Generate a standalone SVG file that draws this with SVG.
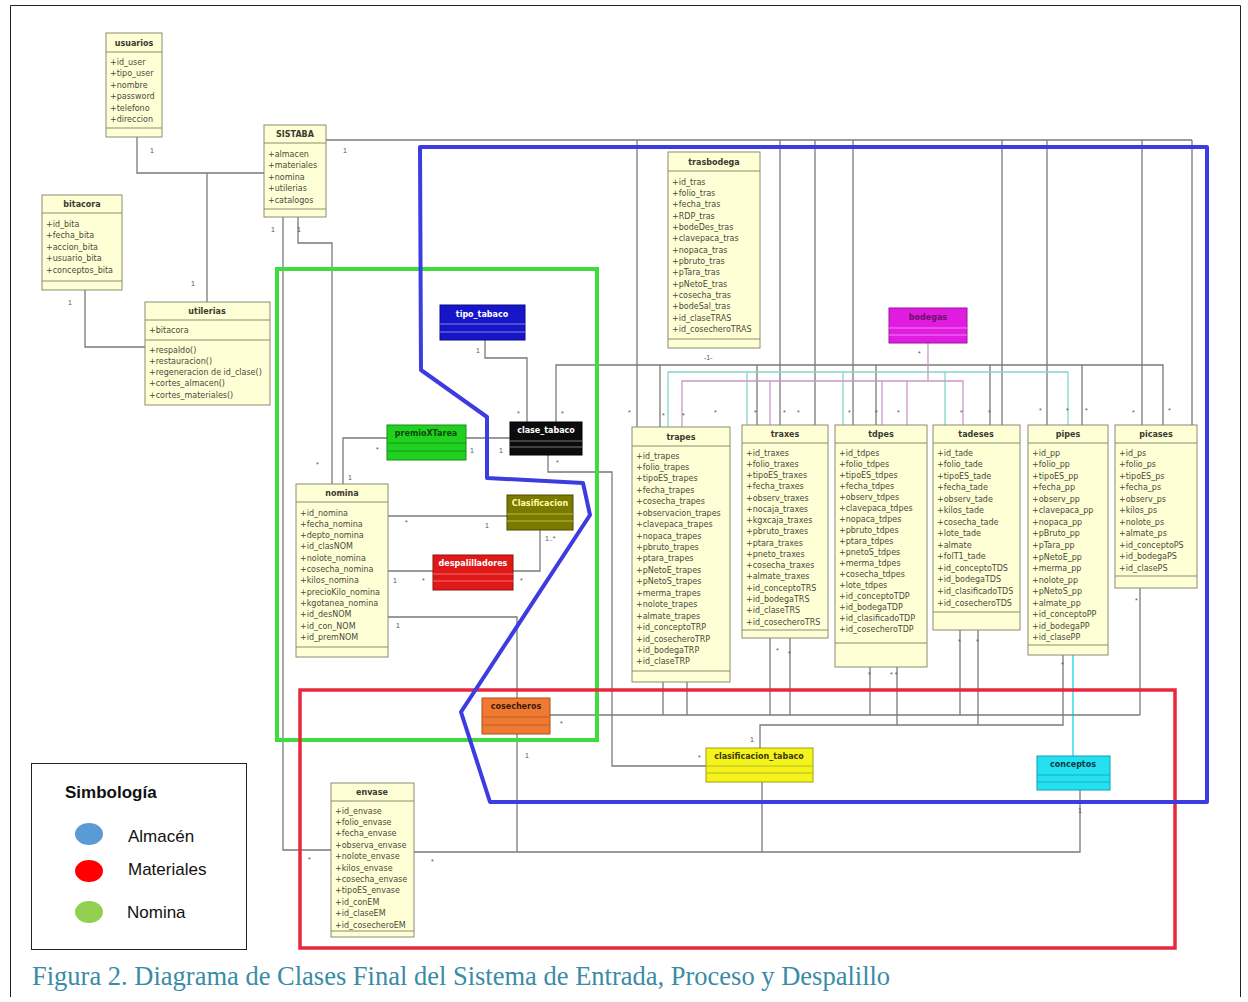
<svg xmlns="http://www.w3.org/2000/svg" width="1248" height="1002" viewBox="0 0 1248 1002">
  <style>
    .box { fill: #FFFFD6; stroke: #8C8C70; stroke-width: 1; }
    .sep { stroke: #8C8C70; stroke-width: 1; }
    .t { font-family: "DejaVu Sans", "Liberation Sans", sans-serif; font-size: 8px; font-weight: bold; text-anchor: middle; fill: #3A3A30; }
    .a { font-family: "DejaVu Sans", "Liberation Sans", sans-serif; font-size: 8px; fill: #4A4A3C; }
    .m { font-family: "Liberation Sans", Arial, sans-serif; font-size: 7px; fill: #555; }
    .ln { fill: none; stroke: #7A7A7A; stroke-width: 1.3; }
    .teal { fill: none; stroke: #88D4CC; stroke-width: 1.3; }
    .mag { fill: none; stroke: #C898C8; stroke-width: 1.3; }
    .cyan { fill: none; stroke: #3FE0E8; stroke-width: 1.6; }
    .lg { font-family: "Liberation Sans", Arial, sans-serif; font-size: 17px; fill: #111; }
  </style>

  <rect x="0" y="0" width="1248" height="1002" fill="#FFFFFF"/>
  <!-- page frame -->
  <path d="M10.5,997 V5.5 H1240.5 V997" fill="none" stroke="#222" stroke-width="1"/>

  <!-- connectors -->
  <g id="connectors">
    <path class="ln" d="M137,137 V173 H264"/>
    <path class="ln" d="M207,173 V302"/>
    <path class="ln" d="M85,290 V347 H145"/>
    <!-- SISTABA top bus -->
    <path class="ln" d="M326,140 H1192"/>
    <path class="ln" d="M637,140 V427 M780,140 V425 M815,140 V425 M853,140 V425 M1002,140 V425 M1047,140 V425 M1142,140 V425 M1192,140 V425"/>
    <!-- clase_tabaco bus -->
    <path class="ln" d="M556,422 V365 H1163 V425"/>
    <path class="ln" d="M660,365 V427 M757,365 V425 M876,365 V425 M990,365 V425 M1082,365 V425"/>
    <!-- conceptos bus -->
    <path class="teal" d="M668,427 V372 H1068 V425 M747,372 V425 M843,372 V425 M945,372 V425"/>
    <path class="cyan" d="M1073,756 V655"/>
    <!-- bodegas bus -->
    <path class="mag" d="M928,343 V381 M682,427 V381 H963 V425 M770,381 V425 M882,381 V425 M907,381 V425"/>
    <!-- tipo / clase / premio / nomina -->
    <path class="ln" d="M485,340 V358 H527 V422"/>
    <path class="ln" d="M343,484 V438 H510"/>
    <path class="ln" d="M548,455 V472 H612 V766 H706"/>
    <path class="ln" d="M388,516 H507"/>
    <path class="ln" d="M540,530 V571 H388"/>
    <path class="ln" d="M388,617 H517 V698"/>
    <path class="ln" d="M283,217 V850 H331"/>
    <path class="ln" d="M298,217 V243 H332 V484"/>
    <!-- lower area -->
    <path class="ln" d="M517,734 V852"/>
    <path class="ln" d="M414,852 H1080 V790"/>
    <path class="ln" d="M762,782 V852"/>
    <path class="ln" d="M550,715 H1140" stroke="#9A9080"/>
    <path class="ln" d="M663,682 V715 M687,682 V715 M770,637 V715 M790,637 V715 M870,667 V715 M897,667 V725 M960,630 V715 M978,630 V725 M1140,588 V715"/>
    <path class="ln" d="M760,748 V725 H1063 V655"/>
    <!-- multiplicities -->
    <g class="m">
      <text x="150" y="153">1</text>
      <text x="343" y="153">1</text>
      <text x="191" y="286">1</text>
      <text x="68" y="305">1</text>
      <text x="271" y="232">1</text>
      <text x="297" y="232">1</text>
      <text x="476" y="353">1</text>
      <text x="517" y="416">*</text>
      <text x="561" y="416">*</text>
      <text x="376" y="452">*</text>
      <text x="470" y="453">1</text>
      <text x="499" y="453">1</text>
      <text x="316" y="467">*</text>
      <text x="348" y="480">1</text>
      <text x="556" y="465">*</text>
      <text x="405" y="525">*</text>
      <text x="485" y="528">1</text>
      <text x="545" y="541">1..*</text>
      <text x="393" y="583">1</text>
      <text x="422" y="583">*</text>
      <text x="520" y="583">*</text>
      <text x="396" y="628">1</text>
      <text x="704" y="360">-1-</text>
      <text x="628" y="415">*</text>
      <text x="662" y="418">*</text>
      <text x="682" y="418">*</text>
      <text x="714" y="415">*</text>
      <text x="754" y="415">*</text>
      <text x="783" y="415">*</text>
      <text x="797" y="415">*</text>
      <text x="848" y="415">*</text>
      <text x="875" y="415">*</text>
      <text x="897" y="415">*</text>
      <text x="918" y="356">*</text>
      <text x="960" y="415">*</text>
      <text x="988" y="415">*</text>
      <text x="1039" y="413">*</text>
      <text x="1066" y="413">*</text>
      <text x="1085" y="413">*</text>
      <text x="1132" y="415">*</text>
      <text x="1168" y="413">*</text>
      <text x="776" y="653">*</text>
      <text x="788" y="656">*</text>
      <text x="868" y="677">*</text>
      <text x="890" y="677">* *</text>
      <text x="958" y="644">*</text>
      <text x="976" y="644">*</text>
      <text x="1061" y="667">*</text>
      <text x="1135" y="603">*</text>
      <text x="560" y="726">*</text>
      <text x="698" y="760">*</text>
      <text x="750" y="742">1</text>
      <text x="525" y="758">1</text>
      <text x="308" y="862">*</text>
      <text x="431" y="864">*</text>
      <text x="1078" y="813">1</text>
    </g>
  </g>

  <!-- subsystem outlines -->
  <rect x="277" y="269" width="320" height="471" fill="none" stroke="#3EDC3E" stroke-width="4"/>
  <rect x="300" y="690" width="875" height="258" fill="none" stroke="#E8283C" stroke-width="3.5"/>
  <polygon points="420,147 1207,147 1207,802 490,802 461,712 590,515 583,483 487,478 487,417 421,370" fill="none" stroke="#3C3CE0" stroke-width="4" stroke-linejoin="round"/>

  <!-- classes -->
  <g id="usuarios">
    <rect class="box" x="106" y="33" width="56" height="104"/>
    <text class="t" x="134" y="46">usuarios</text>
    <path class="sep" d="M106,52 H162 M106,128 H162"/>
    <text class="a" x="110" y="64.5"><tspan x="110">+id_user</tspan><tspan x="110" dy="11.5">+tipo_user</tspan><tspan x="110" dy="11.5">+nombre</tspan><tspan x="110" dy="11.5">+password</tspan><tspan x="110" dy="11.5">+telefono</tspan><tspan x="110" dy="11.5">+direccion</tspan></text>
  </g>

  <g id="SISTABA">
    <rect class="box" x="264" y="125" width="62" height="92"/>
    <text class="t" x="295" y="137">SISTABA</text>
    <path class="sep" d="M264,143 H326 M264,209 H326"/>
    <text class="a" x="268" y="156.5"><tspan x="268">+almacen</tspan><tspan x="268" dy="11.5">+materiales</tspan><tspan x="268" dy="11.5">+nomina</tspan><tspan x="268" dy="11.5">+utilerias</tspan><tspan x="268" dy="11.5">+catalogos</tspan></text>
  </g>

  <g id="bitacora">
    <rect class="box" x="42" y="195" width="80" height="95"/>
    <text class="t" x="82" y="207">bitacora</text>
    <path class="sep" d="M42,213 H122 M42,281 H122"/>
    <text class="a" x="46" y="226.5"><tspan x="46">+id_bita</tspan><tspan x="46" dy="11.5">+fecha_bita</tspan><tspan x="46" dy="11.5">+accion_bita</tspan><tspan x="46" dy="11.5">+usuario_bita</tspan><tspan x="46" dy="11.5">+conceptos_bita</tspan></text>
  </g>

  <g id="utilerias">
    <rect class="box" x="145" y="302" width="125" height="103"/>
    <text class="t" x="207" y="314">utilerias</text>
    <path class="sep" d="M145,320 H270 M145,340 H270"/>
    <text class="a" x="149" y="332.5">+bitacora</text>
    <text class="a" x="149" y="352.5"><tspan x="149">+respaldo()</tspan><tspan x="149" dy="11.25">+restauracion()</tspan><tspan x="149" dy="11.25">+regeneracion de id_clase()</tspan><tspan x="149" dy="11.25">+cortes_almacen()</tspan><tspan x="149" dy="11.25">+cortes_materiales()</tspan></text>
  </g>

  <g id="trasbodega">
    <rect class="box" x="668" y="152" width="92" height="196"/>
    <text class="t" x="714" y="165">trasbodega</text>
    <path class="sep" d="M668,171 H760 M668,339 H760"/>
    <text class="a" x="672" y="184.5"><tspan x="672">+id_tras</tspan><tspan x="672" dy="11.35">+folio_tras</tspan><tspan x="672" dy="11.35">+fecha_tras</tspan><tspan x="672" dy="11.35">+RDP_tras</tspan><tspan x="672" dy="11.35">+bodeDes_tras</tspan><tspan x="672" dy="11.35">+clavepaca_tras</tspan><tspan x="672" dy="11.35">+nopaca_tras</tspan><tspan x="672" dy="11.35">+pbruto_tras</tspan><tspan x="672" dy="11.35">+pTara_tras</tspan><tspan x="672" dy="11.35">+pNetoE_tras</tspan><tspan x="672" dy="11.35">+cosecha_tras</tspan><tspan x="672" dy="11.35">+bodeSal_tras</tspan><tspan x="672" dy="11.35">+id_claseTRAS</tspan><tspan x="672" dy="11.35">+id_cosecheroTRAS</tspan></text>
  </g>

  <g id="tipo_tabaco">
    <rect x="440" y="305" width="85" height="35" fill="#1616C8" stroke="#0A0A80"/>
    <text class="t" x="482" y="317" style="fill:#FFFFFF">tipo_tabaco</text>
    <path d="M440,324 H525 M440,332 H525" stroke="#8080E0" stroke-width="1"/>
  </g>

  <g id="bodegas">
    <rect x="889" y="308" width="78" height="35" fill="#E01CE0" stroke="#A010A0"/>
    <text class="t" x="928" y="320" style="fill:#6A106A">bodegas</text>
    <path d="M889,328 H967 M889,335 H967" stroke="#F080F0" stroke-width="1"/>
  </g>

  <g id="clase_tabaco">
    <rect x="510" y="422" width="72" height="33" fill="#0C0C0C" stroke="#000"/>
    <text class="t" x="546" y="433" style="fill:#FFFFFF">clase_tabaco</text>
    <path d="M510,441 H582 M510,447 H582" stroke="#777" stroke-width="1"/>
  </g>

  <g id="premioXTarea">
    <rect x="387" y="425" width="79" height="35" fill="#22D022" stroke="#119011"/>
    <text class="t" x="426" y="436" style="fill:#0A4A0A">premioXTarea</text>
    <path d="M387,443 H466 M387,451 H466" stroke="#0E9A0E" stroke-width="1"/>
  </g>

  <g id="Clasificacion">
    <rect x="507" y="495" width="66" height="35" fill="#7A7A00" stroke="#4A4A00"/>
    <text class="t" x="540" y="506" style="fill:#FFFFA8">Clasificacion</text>
    <path d="M507,514 H573 M507,521 H573" stroke="#B8B840" stroke-width="1"/>
  </g>

  <g id="despalilladores">
    <rect x="433" y="555" width="80" height="35" fill="#E01818" stroke="#901010"/>
    <text class="t" x="473" y="566" style="fill:#FFFFFF">despalilladores</text>
    <path d="M433,574 H513 M433,581 H513" stroke="#F07070" stroke-width="1"/>
  </g>

  <g id="nomina">
    <rect class="box" x="296" y="484" width="92" height="173"/>
    <text class="t" x="342" y="496">nomina</text>
    <path class="sep" d="M296,502 H388 M296,647 H388"/>
    <text class="a" x="300" y="515.5"><tspan x="300">+id_nomina</tspan><tspan x="300" dy="11.3">+fecha_nomina</tspan><tspan x="300" dy="11.3">+depto_nomina</tspan><tspan x="300" dy="11.3">+id_clasNOM</tspan><tspan x="300" dy="11.3">+nolote_nomina</tspan><tspan x="300" dy="11.3">+cosecha_nomina</tspan><tspan x="300" dy="11.3">+kilos_nomina</tspan><tspan x="300" dy="11.3">+precioKilo_nomina</tspan><tspan x="300" dy="11.3">+kgotanea_nomina</tspan><tspan x="300" dy="11.3">+id_desNOM</tspan><tspan x="300" dy="11.3">+id_con_NOM</tspan><tspan x="300" dy="11.3">+id_premNOM</tspan></text>
  </g>

  <g id="trapes">
    <rect class="box" x="632" y="427" width="98" height="255"/>
    <text class="t" x="681" y="440">trapes</text>
    <path class="sep" d="M632,446 H730 M632,671 H730"/>
    <text class="a" x="636" y="458.5"><tspan x="636">+id_trapes</tspan><tspan x="636" dy="11.44">+folio_trapes</tspan><tspan x="636" dy="11.44">+tipoES_trapes</tspan><tspan x="636" dy="11.44">+fecha_trapes</tspan><tspan x="636" dy="11.44">+cosecha_trapes</tspan><tspan x="636" dy="11.44">+observacion_trapes</tspan><tspan x="636" dy="11.44">+clavepaca_trapes</tspan><tspan x="636" dy="11.44">+nopaca_trapes</tspan><tspan x="636" dy="11.44">+pbruto_trapes</tspan><tspan x="636" dy="11.44">+ptara_trapes</tspan><tspan x="636" dy="11.44">+pNetoE_trapes</tspan><tspan x="636" dy="11.44">+pNetoS_trapes</tspan><tspan x="636" dy="11.44">+merma_trapes</tspan><tspan x="636" dy="11.44">+nolote_trapes</tspan><tspan x="636" dy="11.44">+almate_trapes</tspan><tspan x="636" dy="11.44">+id_conceptoTRP</tspan><tspan x="636" dy="11.44">+id_cosecheroTRP</tspan><tspan x="636" dy="11.44">+id_bodegaTRP</tspan><tspan x="636" dy="11.44">+id_claseTRP</tspan></text>
  </g>

  <g id="traxes">
    <rect class="box" x="742" y="425" width="86" height="213"/>
    <text class="t" x="785" y="437">traxes</text>
    <path class="sep" d="M742,443 H828 M742,630 H828"/>
    <text class="a" x="746" y="455.5"><tspan x="746">+id_traxes</tspan><tspan x="746" dy="11.27">+folio_traxes</tspan><tspan x="746" dy="11.27">+tipoES_traxes</tspan><tspan x="746" dy="11.27">+fecha_traxes</tspan><tspan x="746" dy="11.27">+observ_traxes</tspan><tspan x="746" dy="11.27">+nocaja_traxes</tspan><tspan x="746" dy="11.27">+kgxcaja_traxes</tspan><tspan x="746" dy="11.27">+pbruto_traxes</tspan><tspan x="746" dy="11.27">+ptara_traxes</tspan><tspan x="746" dy="11.27">+pneto_traxes</tspan><tspan x="746" dy="11.27">+cosecha_traxes</tspan><tspan x="746" dy="11.27">+almate_traxes</tspan><tspan x="746" dy="11.27">+id_conceptoTRS</tspan><tspan x="746" dy="11.27">+id_bodegaTRS</tspan><tspan x="746" dy="11.27">+id_claseTRS</tspan><tspan x="746" dy="11.27">+id_cosecheroTRS</tspan></text>
  </g>

  <g id="tdpes">
    <rect class="box" x="835" y="425" width="92" height="242"/>
    <text class="t" x="881" y="437">tdpes</text>
    <path class="sep" d="M835,443 H927 M835,643 H927"/>
    <text class="a" x="839" y="455.5"><tspan x="839">+id_tdpes</tspan><tspan x="839" dy="11.06">+folio_tdpes</tspan><tspan x="839" dy="11.06">+tipoES_tdpes</tspan><tspan x="839" dy="11.06">+fecha_tdpes</tspan><tspan x="839" dy="11.06">+observ_tdpes</tspan><tspan x="839" dy="11.06">+clavepaca_tdpes</tspan><tspan x="839" dy="11.06">+nopaca_tdpes</tspan><tspan x="839" dy="11.06">+pbruto_tdpes</tspan><tspan x="839" dy="11.06">+ptara_tdpes</tspan><tspan x="839" dy="11.06">+pnetoS_tdpes</tspan><tspan x="839" dy="11.06">+merma_tdpes</tspan><tspan x="839" dy="11.06">+cosecha_tdpes</tspan><tspan x="839" dy="11.06">+lote_tdpes</tspan><tspan x="839" dy="11.06">+id_conceptoTDP</tspan><tspan x="839" dy="11.06">+id_bodegaTDP</tspan><tspan x="839" dy="11.06">+id_clasificadoTDP</tspan><tspan x="839" dy="11.06">+id_cosecheroTDP</tspan></text>
  </g>

  <g id="tadeses">
    <rect class="box" x="933" y="425" width="87" height="205"/>
    <text class="t" x="976" y="437">tadeses</text>
    <path class="sep" d="M933,443 H1020 M933,612 H1020"/>
    <text class="a" x="937" y="455.5"><tspan x="937">+id_tade</tspan><tspan x="937" dy="11.54">+folio_tade</tspan><tspan x="937" dy="11.54">+tipoES_tade</tspan><tspan x="937" dy="11.54">+fecha_tade</tspan><tspan x="937" dy="11.54">+observ_tade</tspan><tspan x="937" dy="11.54">+kilos_tade</tspan><tspan x="937" dy="11.54">+cosecha_tade</tspan><tspan x="937" dy="11.54">+lote_tade</tspan><tspan x="937" dy="11.54">+almate</tspan><tspan x="937" dy="11.54">+folT1_tade</tspan><tspan x="937" dy="11.54">+id_conceptoTDS</tspan><tspan x="937" dy="11.54">+id_bodegaTDS</tspan><tspan x="937" dy="11.54">+id_clasificadoTDS</tspan><tspan x="937" dy="11.54">+id_cosecheroTDS</tspan></text>
  </g>

  <g id="pipes">
    <rect class="box" x="1028" y="425" width="80" height="230"/>
    <text class="t" x="1068" y="437">pipes</text>
    <path class="sep" d="M1028,443 H1108 M1028,645 H1108"/>
    <text class="a" x="1032" y="455.5"><tspan x="1032">+id_pp</tspan><tspan x="1032" dy="11.56">+folio_pp</tspan><tspan x="1032" dy="11.56">+tipoES_pp</tspan><tspan x="1032" dy="11.56">+fecha_pp</tspan><tspan x="1032" dy="11.56">+observ_pp</tspan><tspan x="1032" dy="11.56">+clavepaca_pp</tspan><tspan x="1032" dy="11.56">+nopaca_pp</tspan><tspan x="1032" dy="11.56">+pBruto_pp</tspan><tspan x="1032" dy="11.56">+pTara_pp</tspan><tspan x="1032" dy="11.56">+pNetoE_pp</tspan><tspan x="1032" dy="11.56">+merma_pp</tspan><tspan x="1032" dy="11.56">+nolote_pp</tspan><tspan x="1032" dy="11.56">+pNetoS_pp</tspan><tspan x="1032" dy="11.56">+almate_pp</tspan><tspan x="1032" dy="11.56">+id_conceptoPP</tspan><tspan x="1032" dy="11.56">+id_bodegaPP</tspan><tspan x="1032" dy="11.56">+id_clasePP</tspan></text>
  </g>

  <g id="picases">
    <rect class="box" x="1115" y="425" width="82" height="163"/>
    <text class="t" x="1156" y="437">picases</text>
    <path class="sep" d="M1115,443 H1197 M1115,576 H1197"/>
    <text class="a" x="1119" y="455.5"><tspan x="1119">+id_ps</tspan><tspan x="1119" dy="11.5">+folio_ps</tspan><tspan x="1119" dy="11.5">+tipoES_ps</tspan><tspan x="1119" dy="11.5">+fecha_ps</tspan><tspan x="1119" dy="11.5">+observ_ps</tspan><tspan x="1119" dy="11.5">+kilos_ps</tspan><tspan x="1119" dy="11.5">+nolote_ps</tspan><tspan x="1119" dy="11.5">+almate_ps</tspan><tspan x="1119" dy="11.5">+id_conceptoPS</tspan><tspan x="1119" dy="11.5">+id_bodegaPS</tspan><tspan x="1119" dy="11.5">+id_clasePS</tspan></text>
  </g>

  <g id="cosecheros">
    <rect x="482" y="698" width="68" height="36" fill="#F07A32" stroke="#A85018"/>
    <text class="t" x="516" y="709" style="fill:#3A1A08">cosecheros</text>
    <path d="M482,717 H550 M482,725 H550" stroke="#B86020" stroke-width="1"/>
  </g>

  <g id="clasificacion_tabaco">
    <rect x="706" y="748" width="107" height="34" fill="#F4F41C" stroke="#A0A010"/>
    <text class="t" x="759" y="759" style="fill:#3A3A08">clasificacion_tabaco</text>
    <path d="M706,766 H813 M706,773 H813" stroke="#B8B820" stroke-width="1"/>
  </g>

  <g id="conceptos">
    <rect x="1037" y="756" width="73" height="34" fill="#24E0F0" stroke="#10A0B0"/>
    <text class="t" x="1073" y="767" style="fill:#0A3A40">conceptos</text>
    <path d="M1037,775 H1110 M1037,782 H1110" stroke="#10B0C0" stroke-width="1"/>
  </g>

  <g id="envase">
    <rect class="box" x="331" y="783" width="83" height="154"/>
    <text class="t" x="372" y="795">envase</text>
    <path class="sep" d="M331,801 H414 M331,931 H414"/>
    <text class="a" x="335" y="813.5"><tspan x="335">+id_envase</tspan><tspan x="335" dy="11.4">+folio_envase</tspan><tspan x="335" dy="11.4">+fecha_envase</tspan><tspan x="335" dy="11.4">+observa_envase</tspan><tspan x="335" dy="11.4">+nolote_envase</tspan><tspan x="335" dy="11.4">+kilos_envase</tspan><tspan x="335" dy="11.4">+cosecha_envase</tspan><tspan x="335" dy="11.4">+tipoES_envase</tspan><tspan x="335" dy="11.4">+id_conEM</tspan><tspan x="335" dy="11.4">+id_claseEM</tspan><tspan x="335" dy="11.4">+id_cosecheroEM</tspan></text>
  </g>

  <!-- legend -->
  <g id="legend">
    <rect x="31.5" y="763.5" width="215" height="186" fill="#FFFFFF" stroke="#222" stroke-width="1"/>
    <text class="lg" x="65" y="798" font-weight="bold">Simbología</text>
    <ellipse cx="89" cy="834" rx="14" ry="11" fill="#5B9BD5"/>
    <ellipse cx="89" cy="871" rx="14" ry="11" fill="#FF0000"/>
    <ellipse cx="89" cy="912" rx="14" ry="11" fill="#92D050"/>
    <text class="lg" x="128" y="842">Almacén</text>
    <text class="lg" x="128" y="875">Materiales</text>
    <text class="lg" x="127" y="918">Nomina</text>
  </g>

  <!-- caption -->
  <text x="32" y="985" font-family="Liberation Serif, 'Times New Roman', serif" font-size="26.5" fill="#3A8BA6">Figura 2. Diagrama de Clases Final del Sistema de Entrada, Proceso y Despalillo</text>
</svg>
